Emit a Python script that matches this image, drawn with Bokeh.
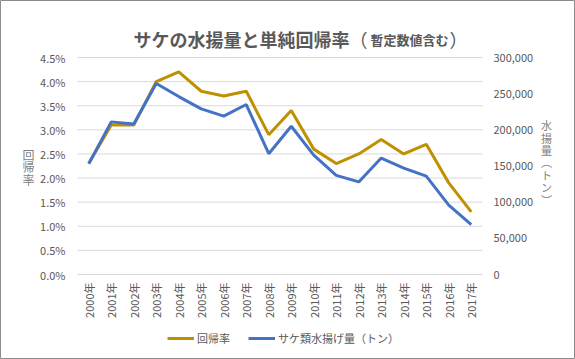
import math
from bokeh.plotting import figure
from bokeh.models import (Range1d, LinearAxis, FixedTicker, NumeralTickFormatter,
                          PrintfTickFormatter, Legend, LegendItem, Label)
from bokeh.embed import file_html
from bokeh.resources import INLINE

# ---- data ----
years = ["2000年", "2001年", "2002年", "2003年", "2004年", "2005年", "2006年",
         "2007年", "2008年", "2009年", "2010年", "2011年", "2012年", "2013年",
         "2014年", "2015年", "2016年", "2017年"]
return_rate = [2.3, 3.1, 3.1, 4.0, 4.2, 3.8, 3.7, 3.8, 2.9, 3.4, 2.6, 2.3,
               2.5, 2.8, 2.5, 2.7, 1.9, 1.3]          # 回帰率 (%)
catch_tons = [153000, 211000, 208000, 264000, 246000, 229000, 219000, 235000,
              167000, 205000, 165000, 137000, 128000, 161000, 147000, 136000,
              96000, 69000]                           # サケ類水揚げ量（トン）
left_ticks = [0, 0.5, 1.0, 1.5, 2.0, 2.5, 3.0, 3.5, 4.0, 4.5]
right_ticks = [0, 50000, 100000, 150000, 200000, 250000, 300000]
title_main = "サケの水揚量と単純回帰率"
title_note = "暫定数値含む"
left_label = "回帰率"
right_label = "水揚量︵トン︶"
legend_labels = ["回帰率", "サケ類水揚げ量（トン）"]

# ---- layout / style ----
FONT = "Noto Sans CJK JP"
TXT = "#595959"
LBL = "#7F7F7F"
GOLD = "#BF9000"
BLUE = "#4472C4"
W, H = 575, 359
PL, PR, PT, PB = 77, 482, 57, 274      # plot-area pixel bounds

xs = list(range(len(years)))
x_lo, x_hi = xs[0] - 0.5, xs[-1] + 0.5
y_lo, y_hi = left_ticks[0], left_ticks[-1]
ux = (PR - PL) / (x_hi - x_lo)
uy = (PB - PT) / (y_hi - y_lo)
k = right_ticks[-1] / y_hi

x_range = Range1d(x_lo - PL / ux, x_hi + (W - PR) / ux)
y_range = Range1d(y_lo - (H - PB) / uy, y_hi + PT / uy)

p = figure(width=W, height=H, output_backend="svg", toolbar_location=None,
           x_range=x_range, y_range=y_range,
           x_axis_type=None, y_axis_type=None,
           min_border=0, min_border_left=0, min_border_right=0,
           min_border_top=0, min_border_bottom=0,
           outline_line_color="#8C8C8C", outline_line_width=1,
           background_fill_color="white", border_fill_color="white")
p.title.visible = False
p.extra_y_ranges = {"catch": Range1d(y_range.start * k, y_range.end * k)}

# gridlines over the plot area
p.segment(x0=x_lo, x1=x_hi, y0=left_ticks, y1=left_ticks,
          line_color="#D9D9D9", line_width=1)

r1 = p.line(xs, return_rate, line_color=GOLD, line_width=3)
r2 = p.line(xs, catch_tons, y_range_name="catch", line_color=BLUE, line_width=3)


def style_axis(ax):
    ax.axis_line_color = None
    ax.major_tick_line_color = None
    ax.minor_tick_line_color = None
    ax.major_tick_out = 0
    ax.major_tick_in = 0
    ax.minor_tick_out = 0
    ax.minor_tick_in = 0
    ax.major_label_text_color = TXT
    ax.major_label_text_font = FONT
    ax.major_label_text_font_size = "11px"


lax = LinearAxis(fixed_location=x_lo, ticker=FixedTicker(ticks=left_ticks),
                 formatter=PrintfTickFormatter(format="%.1f%%"))
style_axis(lax)
lax.major_label_standoff = 12
p.add_layout(lax, "left")

rax = LinearAxis(fixed_location=x_hi, y_range_name="catch",
                 ticker=FixedTicker(ticks=right_ticks),
                 formatter=NumeralTickFormatter(format="0,0"))
style_axis(rax)
rax.major_label_standoff = 11
p.add_layout(rax, "right")

bax = LinearAxis(fixed_location=y_lo, ticker=FixedTicker(ticks=xs))
style_axis(bax)
bax.major_label_overrides = {i: y for i, y in enumerate(years)}
bax.major_label_orientation = math.pi / 2
bax.major_label_standoff = 8
p.add_layout(bax, "below")

# axis titles (stacked vertical text)
p.add_layout(Label(x=28, y=H - 166.5, x_units="screen", y_units="screen",
                   text="\n".join(left_label), text_align="center",
                   text_baseline="middle", text_font=FONT, text_font_size="12px",
                   text_color=LBL, text_line_height=0.76))
p.add_layout(Label(x=546, y=H - 162, x_units="screen", y_units="screen",
                   text="\n".join(right_label), text_align="center",
                   text_baseline="middle", text_font=FONT, text_font_size="11px",
                   text_color=LBL, text_line_height=0.78))

# title
TY = H - 38.7
p.add_layout(Label(x=349, y=TY, x_units="screen", y_units="screen",
                   text=title_main, text_align="right", text_baseline="alphabetic",
                   text_font=FONT, text_font_size="18px", text_font_style="bold",
                   text_color=TXT))
p.add_layout(Label(x=349, y=TY, x_units="screen", y_units="screen",
                   text="（", text_align="left", text_baseline="alphabetic",
                   text_font=FONT, text_font_size="18px", text_color=TXT))
p.add_layout(Label(x=370, y=TY, x_units="screen", y_units="screen",
                   text=title_note, text_align="left", text_baseline="alphabetic",
                   text_font=FONT, text_font_size="13px", text_font_style="bold",
                   text_color=TXT))
p.add_layout(Label(x=449, y=TY, x_units="screen", y_units="screen",
                   text="）", text_align="left", text_baseline="alphabetic",
                   text_font=FONT, text_font_size="18px", text_color=TXT))

legend = Legend(items=[LegendItem(label=legend_labels[0], renderers=[r1]),
                       LegendItem(label=legend_labels[1], renderers=[r2])],
                orientation="horizontal", location=(167, 11),
                glyph_width=27, glyph_height=20, label_standoff=3, spacing=18,
                padding=0, margin=0, border_line_color=None,
                background_fill_alpha=0, label_text_font=FONT,
                label_text_font_size="11px", label_text_color=TXT)
p.add_layout(legend, "center")

open("out.html", "w").write(file_html(p, INLINE))
